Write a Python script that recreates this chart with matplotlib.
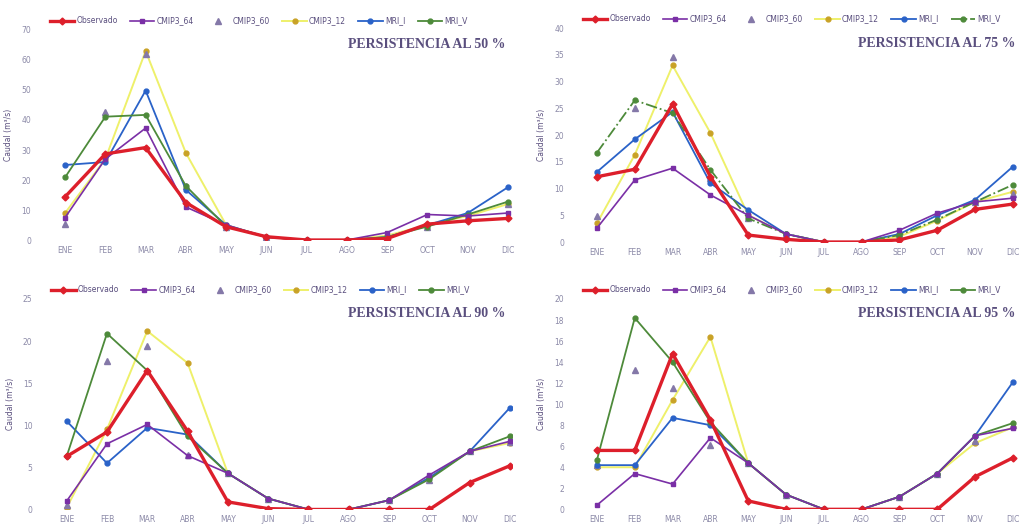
import matplotlib.pyplot as plt

months = ['ENE', 'FEB', 'MAR', 'ABR', 'MAY', 'JUN', 'JUL', 'AGO', 'SEP', 'OCT', 'NOV', 'DIC']
series_names = ['Observado', 'CMIP3_64', 'CMIP3_60', 'CMIP3_12', 'MRI_I', 'MRI_V']

# Persistencia al 50 %
obs_50 = [14.4, 28.7, 30.8, 12.5, 4.4, 1.1, 0, 0, 0.5, 5.3, 6.4, 7.2]
c64_50 = [7.5, 27.0, 37.3, 11.0, 5.0, 1.0, 0, 0, 2.5, 8.5, 8.0, 9.0]
c60_50 = [5.5, 42.8, 62.0, 18.0, 4.5, 1.0, 0, 0, 1.0, 4.5, 8.0, 12.0]
c12_50 = [9.0, 27.0, 63.0, 29.0, 5.0, 1.0, 0, 0, 1.5, 5.0, 8.0, 12.0]
mri1_50 = [25.0, 26.0, 49.8, 16.7, 5.0, 1.0, 0, 0, 1.0, 5.0, 9.0, 17.6]
mri2_50 = [20.9, 41.1, 41.7, 18.0, 4.5, 1.0, 0, 0, 1.0, 4.5, 8.5, 12.8]

# Persistencia al 75 %
obs_75 = [12.2, 13.6, 25.8, 12.2, 1.3, 0.5, 0, 0, 0.4, 2.2, 6.1, 7.1]
c64_75 = [2.6, 11.6, 13.8, 8.8, 5.0, 1.5, 0, 0, 2.2, 5.4, 7.5, 8.2]
c60_75 = [4.9, 25.0, 34.5, 12.0, 4.5, 1.5, 0, 0, 1.5, 4.5, 7.5, 9.0]
c12_75 = [3.5, 16.3, 33.0, 20.4, 5.0, 1.5, 0, 0, 1.0, 4.0, 7.5, 9.4]
mri1_75 = [13.1, 19.2, 24.3, 11.0, 6.0, 1.5, 0, 0, 1.5, 5.0, 7.9, 14.1]
mri2_75 = [16.7, 26.5, 24.1, 13.5, 4.4, 1.5, 0, 0, 1.3, 4.2, 7.5, 10.7]

# Persistencia al 90 %
obs_90 = [6.3, 9.2, 16.5, 9.3, 0.9, 0.1, 0, 0, 0, 0, 3.2, 5.2]
c64_90 = [1.0, 7.8, 10.1, 6.4, 4.3, 1.3, 0, 0, 1.1, 4.1, 6.9, 8.1]
c60_90 = [0.5, 17.6, 19.4, 6.5, 4.3, 1.3, 0, 0, 1.1, 3.5, 6.9, 8.0]
c12_90 = [0.2, 9.5, 21.2, 17.4, 4.3, 1.3, 0, 0, 1.1, 3.8, 6.9, 7.9]
mri1_90 = [10.5, 5.5, 9.7, 8.9, 4.3, 1.3, 0, 0, 1.1, 3.8, 6.9, 12.1]
mri2_90 = [6.3, 20.9, 16.5, 8.7, 4.3, 1.3, 0, 0, 1.1, 3.6, 6.9, 8.7]

# Persistencia al 95 %
obs_95 = [5.6, 5.6, 14.8, 8.5, 0.8, 0, 0, 0, 0, 0, 3.1, 4.9]
c64_95 = [0.4, 3.4, 2.4, 6.8, 4.4, 1.4, 0, 0, 1.2, 3.4, 7.0, 7.7]
c60_95 = [4.2, 13.2, 11.5, 6.1, 4.4, 1.4, 0, 0, 1.2, 3.4, 6.5, 8.0]
c12_95 = [4.0, 4.0, 10.4, 16.4, 4.4, 1.4, 0, 0, 1.2, 3.4, 6.3, 7.8]
mri1_95 = [4.2, 4.2, 8.7, 8.0, 4.4, 1.4, 0, 0, 1.2, 3.4, 7.0, 12.1]
mri2_95 = [4.7, 18.2, 14.0, 8.3, 4.4, 1.4, 0, 0, 1.2, 3.4, 7.0, 8.2]

text_col = '#5a4f7e'
tick_col = '#8c8aa8'

fig = plt.figure(figsize=(10.22, 5.26), dpi=100)

panels = [
    # rect, title, data, ymax, yticks, xmax, green line style
    ([0.044, 0.5437, 0.457, 0.3993], 'PERSISTENCIA AL 50 %',
     [obs_50, c64_50, c60_50, c12_50, mri1_50, mri2_50], 70, range(0, 71, 10), 11.1, '-'),
    ([0.5656, 0.5399, 0.4344, 0.4068], 'PERSISTENCIA AL 75 %',
     [obs_75, c64_75, c60_75, c12_75, mri1_75, mri2_75], 40, range(0, 41, 5), 11.24, '-.'),
    ([0.0455, 0.0314, 0.4555, 0.4002], 'PERSISTENCIA AL 90 %',
     [obs_90, c64_90, c60_90, c12_90, mri1_90, mri2_90], 25, range(0, 26, 5), 11.05, '-'),
    ([0.5656, 0.0317, 0.4344, 0.3999], 'PERSISTENCIA AL 95 %',
     [obs_95, c64_95, c60_95, c12_95, mri1_95, mri2_95], 20, range(0, 21, 2), 11.24, '-'),
]

x = list(range(len(months)))
for rect, title, data, ymax, yticks, xmax, green_ls in panels:
    ax = fig.add_axes(rect)
    obs, c64, c60, c12, mri1, mri2 = data

    ax.plot(x, obs, '-', color='#dd1f2b', lw=2.4, marker='D', ms=3.5, label=series_names[0], zorder=6)
    ax.plot(x, c64, '-', color='#7a2fa6', lw=1.2, marker='s', ms=3.5, label=series_names[1], zorder=5)
    ax.plot(x, c60, linestyle='none', color='#8478a8', marker='^', ms=4.5, label=series_names[2], zorder=3)
    ax.plot(x, c12, '-', color='#eef06a', lw=1.4, marker='o', ms=3.5, mfc='#c9a227', mec='#c9a227',
            label=series_names[3], zorder=2)
    ax.plot(x, mri1, '-', color='#2a62c8', lw=1.3, marker='o', ms=3.5, label=series_names[4], zorder=4)
    ax.plot(x, mri2, linestyle=green_ls, color='#4d8a3a', lw=1.3, marker='o', ms=3.5,
            label=series_names[5], zorder=4)

    ax.set_xlim(-0.5, xmax)
    ax.set_ylim(0, ymax)
    ax.set_xticks(x)
    ax.set_xticklabels(months)
    ax.set_yticks(list(yticks))
    ax.tick_params(length=0, labelsize=5.5, colors=tick_col)
    ax.tick_params(axis='x', pad=4)
    ax.tick_params(axis='y', pad=10)
    for s in ax.spines.values():
        s.set_visible(False)

    ax.set_ylabel('Caudal (m³/s)', fontsize=5.5, color=text_col, labelpad=6)
    ax.text(0.985, 0.93, title, transform=ax.transAxes, ha='right', va='center',
            fontsize=10, fontweight='bold', family='Liberation Serif', color=text_col)
    ax.legend(loc='lower left', bbox_to_anchor=(0.0, 1.0), ncol=6, frameon=False,
              fontsize=5.5, handlelength=3.2, columnspacing=1.6, handletextpad=0.3,
              borderaxespad=0.2, labelcolor=text_col)

fig.savefig('out.png', dpi=100, facecolor='white')
